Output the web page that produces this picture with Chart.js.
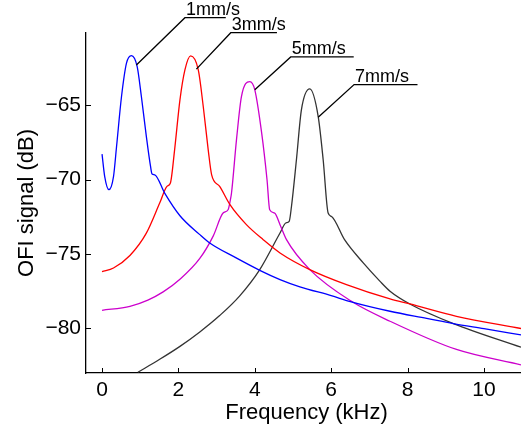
<!DOCTYPE html>
<html>
<head>
<meta charset="utf-8">
<script src="https://cdn.jsdelivr.net/npm/chart.js@4.4.0/dist/chart.umd.min.js"></script>
<style>html,body{margin:0;padding:0;background:#fff;}canvas{display:block;}</style>
</head>
<body>
<canvas id="c" width="521" height="437"></canvas>
<script>
// ---- data (frequency in kHz, signal in dB) ----
const seriesNames = ["1mm/s", "3mm/s", "5mm/s", "7mm/s"];
const seriesColors = ["#0000ff", "#ff0000", "#cc00cc", "#333333"];

const freq1 = [0, 0.07, 0.18, 0.3, 0.38, 0.51, 0.64, 0.77, 0.92, 1.03, 1.16, 1.27, 1.31, 1.38, 1.64, 2.04, 2.56, 2.82, 3.5, 4.13, 4.66, 5.18, 6.0, 6.5, 7.54, 8.5, 9.2, 10.0, 10.97];
const sig1  = [-68.29, -69.8, -70.68, -69.8, -67.78, -64.42, -62.18, -61.67, -62.41, -64.42, -67.1, -69.12, -69.63, -69.68, -70.91, -72.43, -73.7, -74.26, -75.25, -76.1, -76.72, -77.21, -77.8, -78.2, -78.85, -79.33, -79.68, -80.02, -80.44];

const freq3 = [0, 0.3, 0.73, 1.16, 1.51, 1.7, 1.79, 1.9, 2.04, 2.17, 2.32, 2.52, 2.65, 2.78, 2.87, 3.08, 3.35, 3.78, 4.22, 4.66, 5.44, 6.4, 7.54, 8.06, 9.28, 10.97];
const sig3  = [-76.19, -75.94, -75.1, -73.6, -71.58, -70.46, -70.23, -68.0, -64.64, -62.63, -61.69, -62.63, -65.09, -68.0, -69.68, -70.46, -71.69, -73.03, -74.04, -74.93, -76.05, -77.06, -78.02, -78.36, -79.19, -80.01];

const freq5 = [0, 0.73, 1.2, 1.6, 2.04, 2.56, 2.91, 3.17, 3.3, 3.36, 3.39, 3.52, 3.65, 3.87, 4.0, 4.18, 4.32, 4.39, 4.52, 4.66, 4.83, 5.44, 6.53, 7.54, 9.28, 10.97];
const sig5  = [-78.79, -78.52, -78.1, -77.55, -76.7, -75.3, -73.8, -72.25, -72.03, -71.36, -70.9, -67.33, -64.42, -63.42, -63.97, -66.88, -70.01, -72.03, -72.25, -73.03, -74.04, -76.05, -78.18, -79.52, -81.42, -82.45];

const freq7 = [0.94, 1.51, 2.04, 2.56, 3.08, 3.6, 4.13, 4.66, 4.81, 4.9, 4.96, 5.09, 5.22, 5.44, 5.66, 5.79, 5.92, 6.01, 6.35, 6.84, 7.28, 7.54, 8.06, 9.2, 10.97];
const sig7  = [-82.95, -82.08, -81.21, -80.24, -79.14, -77.83, -76.05, -73.59, -72.92, -72.81, -71.81, -68.67, -65.32, -63.91, -65.77, -68.67, -72.25, -72.48, -74.04, -75.6, -76.84, -77.5, -78.36, -79.68, -81.27];

const xTicks = [0, 2, 4, 6, 8, 10];
const yTicks = [-80, -75, -70, -65];
const xLabel = "Frequency (kHz)";
const yLabel = "OFI signal (dB)";

// label callouts: anchor on the peak, elbow, underline end
const calloutAnchorX = [0.90, 2.47, 4.00, 5.66];
const calloutAnchorY = [-62.30, -62.58, -63.97, -65.81];
const calloutElbowX  = [2.17, 3.37, 4.94, 6.60];
const calloutElbowY  = [-59.12, -60.13, -61.76, -63.62];
const calloutEndX    = [3.24, 4.58, 6.59, 8.26];

const freqs = [freq1, freq3, freq5, freq7];
const sigs = [sig1, sig3, sig5, sig7];

const datasets = seriesNames.map((n, i) => ({
  label: n,
  data: freqs[i].map((f, j) => ({x: f, y: sigs[i][j]})),
  borderColor: seriesColors[i],
  borderWidth: 1.3,
  pointRadius: 0,
  fill: false,
  cubicInterpolationMode: 'monotone'
}));

const FONT = "'Liberation Sans', Arial, sans-serif";

const decor = {
  id: 'decor',
  afterDatasetsDraw(chart) {
    const {ctx, scales: {x, y}} = chart;
    ctx.save();
    ctx.strokeStyle = '#000';
    ctx.lineWidth = 1;
    xTicks.forEach(v => {
      const px = Math.round(x.getPixelForValue(v)) + 0.5;
      ctx.beginPath(); ctx.moveTo(px, y.bottom); ctx.lineTo(px, y.bottom - 5); ctx.stroke();
    });
    yTicks.forEach(v => {
      const py = Math.round(y.getPixelForValue(v)) + 0.5;
      ctx.beginPath(); ctx.moveTo(x.left, py); ctx.lineTo(x.left + 5, py); ctx.stroke();
    });
    ctx.lineWidth = 1.3;
    ctx.fillStyle = '#000';
    ctx.font = "18px " + FONT;
    ctx.textAlign = 'left';
    ctx.textBaseline = 'alphabetic';
    seriesNames.forEach((n, i) => {
      const ax = x.getPixelForValue(calloutAnchorX[i]);
      const ay = y.getPixelForValue(calloutAnchorY[i]);
      const ex = x.getPixelForValue(calloutElbowX[i]);
      const ey = y.getPixelForValue(calloutElbowY[i]);
      const ux = x.getPixelForValue(calloutEndX[i]);
      ctx.beginPath();
      ctx.moveTo(ax, ay); ctx.lineTo(ex, ey); ctx.lineTo(ux, ey);
      ctx.stroke();
      ctx.fillText(n, ex + 1, ey - 3);
    });
    ctx.font = "22px " + FONT;
    ctx.textAlign = 'center';
    ctx.textBaseline = 'middle';
    ctx.fillText(xLabel, (x.left + 521) / 2 + 3, 413);
    ctx.save();
    ctx.translate(27, (y.top + y.bottom) / 2);
    ctx.rotate(-Math.PI / 2);
    ctx.fillText(yLabel, 0, 0);
    ctx.restore();
    ctx.restore();
  }
};

new Chart(document.getElementById('c'), {
  type: 'line',
  data: {datasets},
  options: {
    responsive: false,
    animation: false,
    layout: {padding: {top: 33, right: 0, left: 0, bottom: 0}},
    plugins: {legend: {display: false}, tooltip: {enabled: false}},
    scales: {
      x: {
        type: 'linear',
        min: -0.42, max: 10.97,
        afterBuildTicks: s => { s.ticks = xTicks.map(v => ({value: v})); },
        afterFit: s => { s.height = 64; },
        grid: {display: false, drawTicks: false},
        border: {display: true, color: '#000', width: 1.3},
        ticks: {color: '#000', font: {family: FONT, size: 21}, padding: 5, maxRotation: 0,
                callback: v => String(v).replace('-', '\u2212')}
      },
      y: {
        type: 'linear',
        min: -83, max: -60.15,
        afterBuildTicks: s => { s.ticks = yTicks.map(v => ({value: v})); },
        afterFit: s => { s.width = 86; },
        grid: {display: false, drawTicks: false},
        border: {display: true, color: '#000', width: 1.3},
        ticks: {color: '#000', font: {family: FONT, size: 21}, padding: 5,
                callback: v => String(v).replace('-', '\u2212')}
      }
    }
  },
  plugins: [decor]
});
</script>
</body>
</html>
